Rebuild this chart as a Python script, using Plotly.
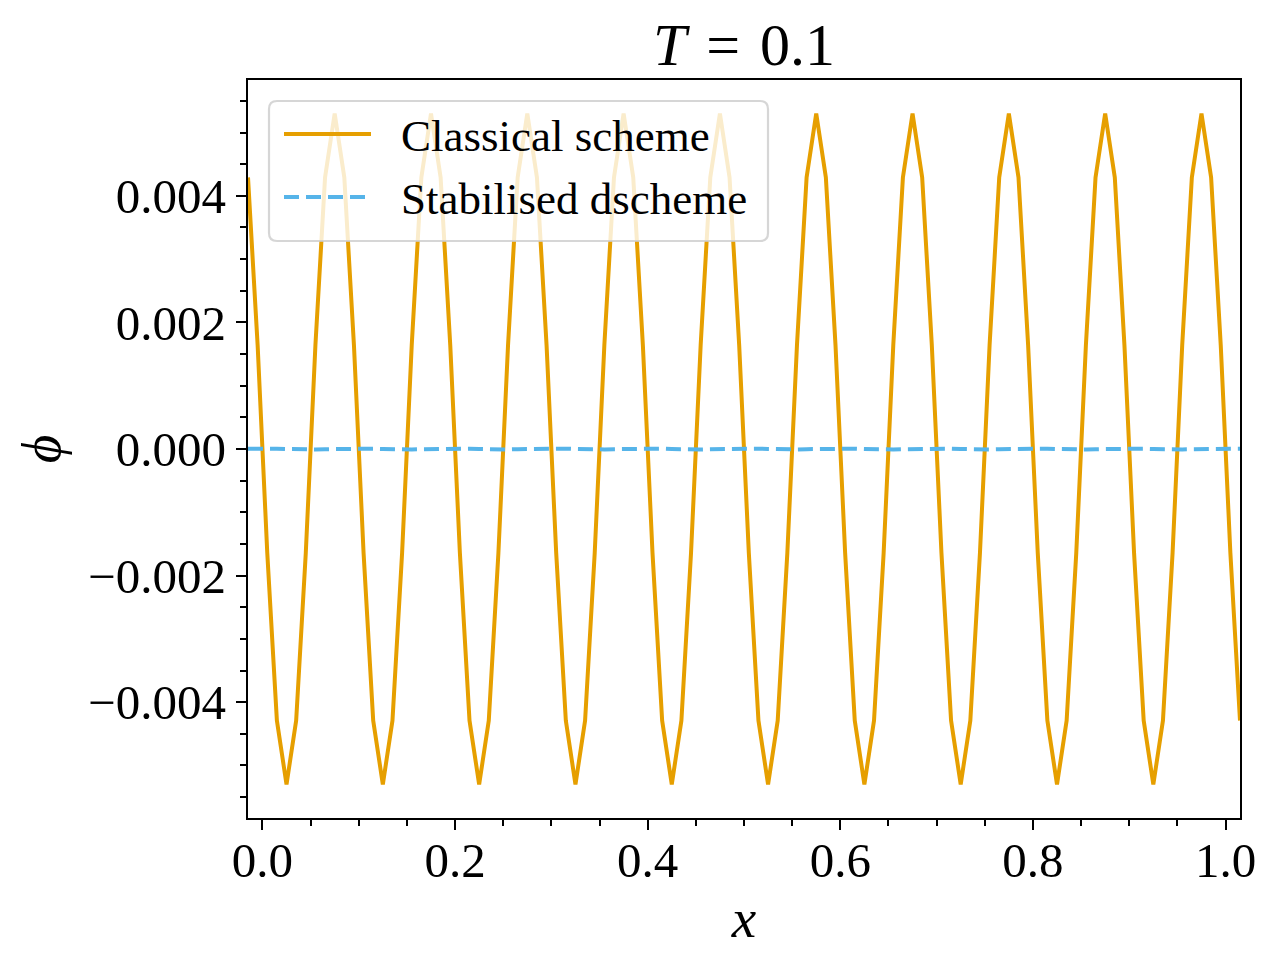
import plotly.graph_objects as go

# ---- data ----
x_cells = [
    -0.015, -0.005, 0.005, 0.015, 0.025, 0.035, 0.045, 0.055, 0.065, 0.075,
    0.085, 0.095, 0.105, 0.115, 0.125, 0.135, 0.145, 0.155, 0.165, 0.175,
    0.185, 0.195, 0.205, 0.215, 0.225, 0.235, 0.245, 0.255, 0.265, 0.275,
    0.285, 0.295, 0.305, 0.315, 0.325, 0.335, 0.345, 0.355, 0.365, 0.375,
    0.385, 0.395, 0.405, 0.415, 0.425, 0.435, 0.445, 0.455, 0.465, 0.475,
    0.485, 0.495, 0.505, 0.515, 0.525, 0.535, 0.545, 0.555, 0.565, 0.575,
    0.585, 0.595, 0.605, 0.615, 0.625, 0.635, 0.645, 0.655, 0.665, 0.675,
    0.685, 0.695, 0.705, 0.715, 0.725, 0.735, 0.745, 0.755, 0.765, 0.775,
    0.785, 0.795, 0.805, 0.815, 0.825, 0.835, 0.845, 0.855, 0.865, 0.875,
    0.885, 0.895, 0.905, 0.915, 0.925, 0.935, 0.945, 0.955, 0.965, 0.975,
    0.985, 0.995, 1.005, 1.015,
]

phi_classical = [
    0.00429, 0.00164, -0.00164, -0.00429, -0.00530, -0.00429, -0.00164, 0.00164, 0.00429, 0.00530,
    0.00429, 0.00164, -0.00164, -0.00429, -0.00530, -0.00429, -0.00164, 0.00164, 0.00429, 0.00530,
    0.00429, 0.00164, -0.00164, -0.00429, -0.00530, -0.00429, -0.00164, 0.00164, 0.00429, 0.00530,
    0.00429, 0.00164, -0.00164, -0.00429, -0.00530, -0.00429, -0.00164, 0.00164, 0.00429, 0.00530,
    0.00429, 0.00164, -0.00164, -0.00429, -0.00530, -0.00429, -0.00164, 0.00164, 0.00429, 0.00530,
    0.00429, 0.00164, -0.00164, -0.00429, -0.00530, -0.00429, -0.00164, 0.00164, 0.00429, 0.00530,
    0.00429, 0.00164, -0.00164, -0.00429, -0.00530, -0.00429, -0.00164, 0.00164, 0.00429, 0.00530,
    0.00429, 0.00164, -0.00164, -0.00429, -0.00530, -0.00429, -0.00164, 0.00164, 0.00429, 0.00530,
    0.00429, 0.00164, -0.00164, -0.00429, -0.00530, -0.00429, -0.00164, 0.00164, 0.00429, 0.00530,
    0.00429, 0.00164, -0.00164, -0.00429, -0.00530, -0.00429, -0.00164, 0.00164, 0.00429, 0.00530,
    0.00429, 0.00164, -0.00164, -0.00429,
]

phi_stabilised = [
    0.000004, 0.000007, 0.000008, 0.000005, 0.000000, -0.000005, -0.000008, -0.000007, -0.000003, 0.000001,
    0.000004, 0.000007, 0.000008, 0.000005, 0.000000, -0.000005, -0.000008, -0.000007, -0.000003, 0.000001,
    0.000004, 0.000007, 0.000008, 0.000005, 0.000000, -0.000005, -0.000008, -0.000007, -0.000003, 0.000001,
    0.000004, 0.000007, 0.000008, 0.000005, 0.000000, -0.000005, -0.000008, -0.000007, -0.000003, 0.000001,
    0.000004, 0.000007, 0.000008, 0.000005, 0.000000, -0.000005, -0.000008, -0.000007, -0.000003, 0.000001,
    0.000004, 0.000007, 0.000008, 0.000005, 0.000000, -0.000005, -0.000008, -0.000007, -0.000003, 0.000001,
    0.000004, 0.000007, 0.000008, 0.000005, 0.000000, -0.000005, -0.000008, -0.000007, -0.000003, 0.000001,
    0.000004, 0.000007, 0.000008, 0.000005, 0.000000, -0.000005, -0.000008, -0.000007, -0.000003, 0.000001,
    0.000004, 0.000007, 0.000008, 0.000005, 0.000000, -0.000005, -0.000008, -0.000007, -0.000003, 0.000001,
    0.000004, 0.000007, 0.000008, 0.000005, 0.000000, -0.000005, -0.000008, -0.000007, -0.000003, 0.000001,
    0.000004, 0.000007, 0.000008, 0.000005,
]

x_tick_vals = [0.0, 0.2, 0.4, 0.6, 0.8, 1.0]
x_tick_text = ["0.0", "0.2", "0.4", "0.6", "0.8", "1.0"]
y_tick_vals = [-0.004, -0.002, 0.0, 0.002, 0.004]
y_tick_text = ["\u22120.004", "\u22120.002", "0.000", "0.002", "0.004"]

series_names = ["Classical scheme", "Stabilised dscheme"]
title_text = "<i>T</i>\u2004=\u20040.1"

# ---- style ----
FONT = "Liberation Serif"
ORANGE = "#E69F00"
BLUE = "#56B4E9"
DASH = "15px,7px"
LW = 4

# page body has an 8px margin: figure sits at (8, 8) in the screenshot
OFF = 8
W, H = 1277 - 2 * OFF, 971 - 2 * OFF
# plot area in screenshot pixels
L, R, T, B = 248, 1240, 80, 818

fig = go.Figure()
fig.add_trace(go.Scatter(
    x=x_cells, y=phi_classical, mode="lines", name=series_names[0],
    line=dict(color=ORANGE, width=LW), showlegend=False,
))
fig.add_trace(go.Scatter(
    x=x_cells, y=phi_stabilised, mode="lines", name=series_names[1],
    line=dict(color=BLUE, width=LW, dash=DASH), showlegend=False,
))


def px_x(p):
    return (p - L) / (R - L)


def px_y(p):
    return (B - p) / (B - T)


# ---- legend (drawn manually: rounded, semi-transparent frame) ----
x0, x1 = px_x(269), px_x(768)
y0, y1 = px_y(241), px_y(101)
rx = 8 / (R - L)
ry = 8 / (B - T)
path = (
    f"M{x0 + rx},{y1} L{x1 - rx},{y1} Q{x1},{y1} {x1},{y1 - ry} "
    f"L{x1},{y0 + ry} Q{x1},{y0} {x1 - rx},{y0} "
    f"L{x0 + rx},{y0} Q{x0},{y0} {x0},{y0 + ry} "
    f"L{x0},{y1 - ry} Q{x0},{y1} {x0 + rx},{y1} Z"
)
fig.add_shape(type="path", path=path, xref="paper", yref="paper",
              fillcolor="rgba(255,255,255,0.8)",
              line=dict(color="rgba(204,204,204,0.8)", width=2.2),
              layer="above")

legend_rows = [(134, ORANGE, "solid"), (197, BLUE, DASH)]
for (row_y, col, dash), name in zip(legend_rows, series_names):
    fig.add_shape(type="line", xref="paper", yref="paper",
                  x0=px_x(284), x1=px_x(371), y0=px_y(row_y), y1=px_y(row_y),
                  line=dict(color=col, width=LW, dash=dash), layer="above")
    fig.add_annotation(xref="paper", yref="paper", x=px_x(399), y=px_y(row_y + 2),
                       xanchor="left", yanchor="middle", showarrow=False,
                       text=name, font=dict(family=FONT, size=45, color="black"))

axis_common = dict(
    showline=True, linecolor="black", linewidth=2.2, mirror=True,
    ticks="outside", ticklen=10, tickwidth=2.2, tickcolor="black",
    showgrid=False, zeroline=False,
    tickfont=dict(family=FONT, size=49, color="black"),
)

fig.update_layout(
    width=W, height=H,
    margin=dict(l=L - OFF, r=W - (R - OFF), t=T - OFF, b=H - (B - OFF), pad=0),
    paper_bgcolor="white", plot_bgcolor="white",
    title=dict(text=title_text, x=((L + R) / 2 - OFF) / W, xanchor="center",
               y=1 - (44 - OFF) / H, yanchor="middle",
               font=dict(family=FONT, size=60, color="black")),
    xaxis=dict(
        range=[-0.015, 1.015], tickmode="array", tickvals=x_tick_vals, ticktext=x_tick_text,
        minor=dict(dtick=0.05, ticks="outside", ticklen=5.6, tickwidth=1.7, tickcolor="black"),
        ticklabelstandoff=-12,
        title=dict(text="<i>x</i>", font=dict(family=FONT, size=55, color="black"), standoff=12),
        **axis_common,
    ),
    yaxis=dict(
        range=[-0.00583, 0.00583], tickmode="array", tickvals=y_tick_vals, ticktext=y_tick_text,
        minor=dict(dtick=0.0005, ticks="outside", ticklen=5.6, tickwidth=1.7, tickcolor="black"),
        title=dict(text="<i>\u03d5</i>", font=dict(family=FONT, size=55, color="black"), standoff=10),
        **axis_common,
    ),
    showlegend=False,
)

fig.write_html("out.html")
